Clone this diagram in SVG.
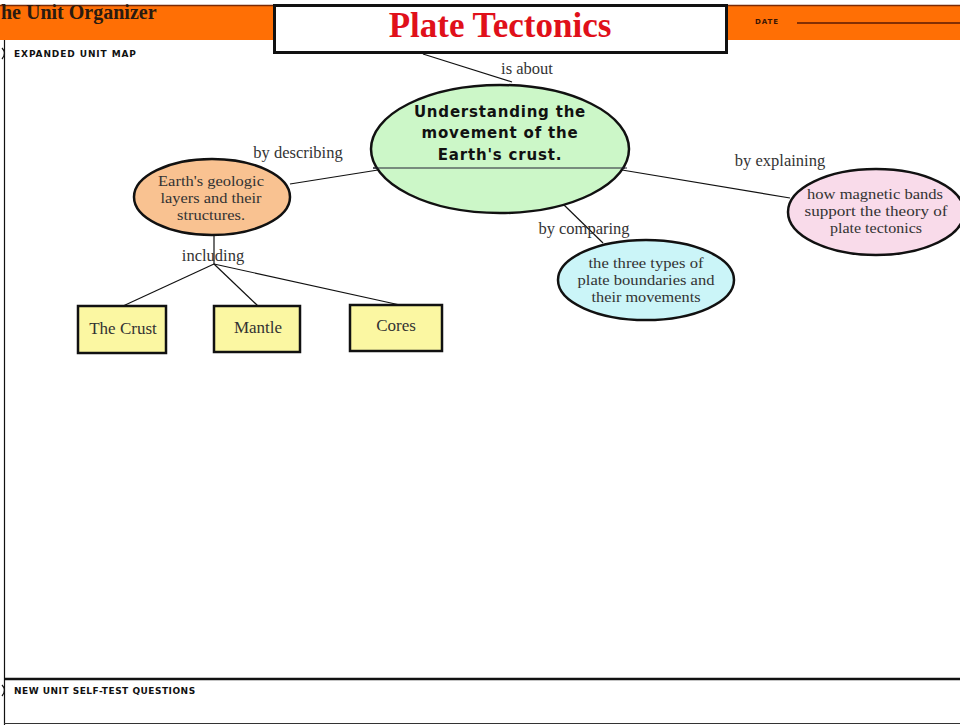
<svg xmlns="http://www.w3.org/2000/svg" width="960" height="725" viewBox="0 0 960 725">
<style>
.ser{font-family:"Liberation Serif","Times New Roman",serif;fill:#333;font-size:14.5px;text-anchor:middle}
.lbl{font-family:"Liberation Serif","Times New Roman",serif;fill:#333;font-size:16.5px;text-anchor:middle}
.small{font-family:"DejaVu Sans",sans-serif;font-weight:bold;font-size:9px;fill:#111;letter-spacing:0.9px}
.conn{stroke:#111;stroke-width:1.2;fill:none}
.box{fill:#fbf7a2;stroke:#111;stroke-width:2.5}
.ell{stroke:#111;stroke-width:2.5}
</style>
<rect width="960" height="725" fill="#fff"/>
<!-- header band -->
<rect x="0" y="5" width="960" height="35" fill="#ff6f05"/>
<line x1="0" y1="5.5" x2="960" y2="5.5" stroke="#7a2a05" stroke-width="1.5"/>
<text x="1" y="19" font-family="Liberation Serif, serif" font-weight="bold" font-size="20" fill="#2a1a10">he Unit Organizer</text>
<text x="755" y="24" class="small" style="font-size:7px;fill:#3a1505">DATE</text>
<line x1="797" y1="23" x2="960" y2="23" stroke="#5a1a05" stroke-width="1.5"/>
<!-- frame -->
<line x1="4.5" y1="40" x2="4.5" y2="725" stroke="#111" stroke-width="1.2"/>
<path d="M2,48 Q7,53 2,59" stroke="#111" stroke-width="1.2" fill="none"/>
<text x="14" y="57" class="small">EXPANDED UNIT MAP</text>
<line x1="4" y1="679" x2="960" y2="679" stroke="#111" stroke-width="2.5"/>
<path d="M2,685 Q7,690 2,696" stroke="#111" stroke-width="1.2" fill="none"/>
<text x="14" y="694" class="small" style="letter-spacing:0.5px">NEW UNIT SELF-TEST QUESTIONS</text>
<line x1="4" y1="723.5" x2="960" y2="723.5" stroke="#333" stroke-width="1.2"/>
<!-- connectors -->
<g id="connectors">
<path class="conn" d="M423,54 L512,82" stroke-width="2.5"/>
<line class="conn" x1="290" y1="184" x2="378" y2="170"/>
<line class="conn" x1="373" y1="168" x2="625" y2="168"/>
<line class="conn" x1="622" y1="170" x2="790" y2="198"/>
<line class="conn" x1="562" y1="203" x2="603" y2="243"/>
<line class="conn" x1="214" y1="235" x2="214" y2="264"/>
<line class="conn" x1="214" y1="264" x2="123" y2="306"/>
<line class="conn" x1="214" y1="264" x2="258" y2="306"/>
<line class="conn" x1="214" y1="264" x2="400" y2="305"/>
<text x="527" y="74" class="lbl">is about</text>
<text x="298" y="158" class="lbl">by describing</text>
<text x="780" y="166" class="lbl">by explaining</text>
<text x="584" y="234" class="lbl">by comparing</text>
<text x="213" y="261" class="lbl">including</text>
</g>
<!-- title -->
<g id="title">
<rect x="274.5" y="5.5" width="452" height="47" fill="#fff" stroke="#111" stroke-width="3"/>
<text x="500" y="37" text-anchor="middle" font-family="Liberation Serif, serif" font-weight="bold" font-size="35" fill="#e0101a">Plate Tectonics</text>
</g>
<g id="main">
<ellipse cx="500" cy="149" rx="129" ry="64" fill="#ccf7c8" class="ell" stroke-width="3"/>
<line x1="373" y1="168" x2="627" y2="168" stroke="#223" stroke-width="1.2"/>
<g font-family="DejaVu Sans, sans-serif" font-weight="bold" font-size="15" fill="#111" text-anchor="middle" letter-spacing="0.8">
<text x="500" y="117">Understanding the</text>
<text x="500" y="138">movement of the</text>
<text x="500" y="160">Earth's crust.</text>
</g>
</g>
<g id="layers">
<ellipse cx="212" cy="197" rx="78" ry="38" fill="#f9c291" class="ell"/>
<text x="211" y="186" class="ser" textLength="106" lengthAdjust="spacingAndGlyphs">Earth's geologic</text>
<text x="211" y="203" class="ser" textLength="101" lengthAdjust="spacingAndGlyphs">layers and their</text>
<text x="211" y="220" class="ser" textLength="68" lengthAdjust="spacingAndGlyphs">structures.</text>
</g>
<g id="boundaries">
<ellipse cx="646" cy="280" rx="88" ry="40" fill="#cbf5f8" class="ell"/>
<text x="646" y="268" class="ser" textLength="115" lengthAdjust="spacingAndGlyphs">the three types of</text>
<text x="646" y="285" class="ser" textLength="137" lengthAdjust="spacingAndGlyphs">plate boundaries and</text>
<text x="646" y="302" class="ser" textLength="109" lengthAdjust="spacingAndGlyphs">their movements</text>
</g>
<g id="magnetic">
<ellipse cx="876" cy="212" rx="88" ry="43" fill="#f9dbea" class="ell"/>
<text x="875" y="199" class="ser" textLength="136" lengthAdjust="spacingAndGlyphs">how magnetic bands</text>
<text x="876" y="216" class="ser" textLength="143" lengthAdjust="spacingAndGlyphs">support the theory of</text>
<text x="876" y="233" class="ser" textLength="92" lengthAdjust="spacingAndGlyphs">plate tectonics</text>
</g>
<g id="crust">
<rect x="78" y="306" width="88" height="47" class="box"/>
<text x="123" y="334" class="ser" style="font-size:17px">The Crust</text>
</g>
<g id="mantle">
<rect x="214" y="306" width="86" height="46" class="box"/>
<text x="258" y="333" class="ser" style="font-size:17px">Mantle</text>
</g>
<g id="cores">
<rect x="350" y="305" width="92" height="46" class="box"/>
<text x="396" y="331" class="ser" style="font-size:17px">Cores</text>
</g>
</svg>
